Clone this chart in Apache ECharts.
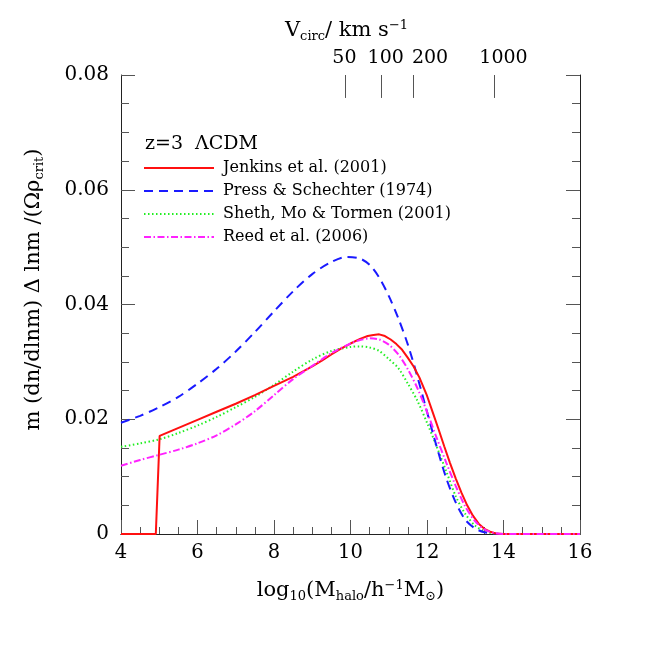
<!DOCTYPE html>
<html><head><meta charset="utf-8">
<script src="https://cdn.jsdelivr.net/npm/echarts@6/dist/echarts.min.js"></script>
<style>html,body{margin:0;padding:0;background:#fff}#c{width:654px;height:654px}</style>
</head><body><div id="c"></div>
<script>
// ---- data ----
const jenkinsX = [4, 4.91, 5.01, 6.0, 6.5, 7.0, 7.5, 8.0, 8.5, 9.0, 9.25, 9.5, 9.75, 10.0, 10.25, 10.45, 10.6, 10.75, 10.9, 11.05, 11.2, 11.35, 11.5, 11.65, 11.8, 12.0, 12.15, 12.3, 12.45, 12.6, 12.75, 12.9, 13.05, 13.2, 13.35, 13.5, 13.65, 13.8, 14.0, 16.0];
const jenkinsY = [0, 0, 0.0171, 0.0199, 0.0213, 0.0227, 0.0242, 0.0258, 0.0274, 0.0292, 0.0302, 0.0313, 0.0323, 0.0332, 0.0340, 0.0345, 0.0347, 0.0348, 0.0345, 0.0339, 0.0331, 0.0321, 0.0307, 0.0292, 0.0273, 0.0241, 0.0212, 0.0183, 0.0153, 0.0124, 0.0097, 0.0072, 0.0050, 0.0032, 0.0018, 0.0009, 0.0004, 0.0001, 0, 0];

const psX = [4.0, 4.5, 5.0, 5.5, 6.0, 6.5, 7.0, 7.5, 8.0, 8.5, 9.0, 9.5, 9.9, 10.25, 10.5, 10.75, 11.0, 11.25, 11.5, 11.75, 12.0, 12.25, 12.5, 12.75, 13.0, 13.25, 13.5, 13.75, 14.0, 16.0];
const psY = [0.0194, 0.0206, 0.0221, 0.0239, 0.0262, 0.0288, 0.0318, 0.0352, 0.0388, 0.0423, 0.0453, 0.0474, 0.0483, 0.0480, 0.0469, 0.0447, 0.0415, 0.0376, 0.0330, 0.0274, 0.0213, 0.0153, 0.0098, 0.0055, 0.0025, 0.0010, 0.0003, 0.0001, 0, 0];

const smtX = [4.0, 4.5, 5.0, 5.5, 6.0, 6.5, 7.0, 7.5, 8.0, 8.5, 9.0, 9.5, 10.0, 10.25, 10.5, 10.75, 11.0, 11.25, 11.5, 11.75, 12.0, 12.25, 12.5, 12.75, 13.0, 13.25, 13.5, 13.75, 14.0, 16.0];
const smtY = [0.0152, 0.0158, 0.0165, 0.0176, 0.0189, 0.0204, 0.0221, 0.0239, 0.0260, 0.0283, 0.0304, 0.0319, 0.0326, 0.0327, 0.0325, 0.0319, 0.0305, 0.0289, 0.0262, 0.0232, 0.0194, 0.0153, 0.0110, 0.0066, 0.0035, 0.0015, 0.0005, 0.0001, 0, 0];

const reedX = [4.0, 4.5, 5.0, 5.5, 6.0, 6.5, 7.0, 7.5, 8.0, 8.5, 9.0, 9.5, 10.0, 10.25, 10.5, 10.75, 11.0, 11.25, 11.5, 11.75, 12.0, 12.25, 12.5, 12.75, 13.0, 13.25, 13.5, 13.75, 14.0, 16.0];
const reedY = [0.0119, 0.0129, 0.0138, 0.0147, 0.0158, 0.0172, 0.0191, 0.0214, 0.0242, 0.0270, 0.0293, 0.0315, 0.0332, 0.0338, 0.0341, 0.0339, 0.0330, 0.0313, 0.0287, 0.0254, 0.0213, 0.0168, 0.0125, 0.0084, 0.0048, 0.0023, 0.0008, 0.0002, 0, 0];

const seriesNames = ['Jenkins et al. (2001)', 'Press & Schechter (1974)', 'Sheth, Mo & Tormen (2001)', 'Reed et al. (2006)'];
const vcircTickPos = [9.86, 10.81, 11.63, 13.75];
const vcircLabelPos = [9.84, 10.92, 12.08, 14.0];
const vcircTickLabels = ['50', '100', '200', '1000'];
const cosmologyLabel = 'z=3  \u039BCDM';

// ---- chart ----
const F = 'DejaVu Serif';
const zip = (xs, ys) => xs.map((x, i) => [x, ys[i]]);
const AX = '#222', TK = '#555';
const Y_MAX = 0.08;
const TOP_TICK = 0.004; // tick length in data units (style)
const richBase = {
  n: { fontFamily: F, fontSize: 21, color: '#000', lineHeight: 24 },
  s: { fontFamily: F, fontSize: 13, color: '#000', lineHeight: 13, padding: [11, 0, 0, 0], verticalAlign: 'bottom' },
  p: { fontFamily: F, fontSize: 13, color: '#000', lineHeight: 13, padding: [0, 0, 11, 0], verticalAlign: 'top' }
};

const chart = echarts.init(document.getElementById('c'), null, { renderer: 'canvas' });
chart.setOption({
  animation: false,
  backgroundColor: '#fff',
  grid: { left: 121, right: 74, top: 75, bottom: 120 },
  xAxis: [{
    type: 'value', min: 4, max: 16, interval: 2, position: 'bottom',
    axisLine: { lineStyle: { color: AX, width: 1 } },
    axisTick: { inside: true, length: 14, lineStyle: { color: TK } },
    minorTick: { show: true, splitNumber: 4, length: 7, lineStyle: { color: TK } },
    splitLine: { show: false },
    axisLabel: { color: '#000', fontFamily: F, fontSize: 19.5, margin: 9 },
    name: '{n|log}{s|10}{n|(M}{s|halo}{n|/h}{p|\u22121}{n|M}{s|\u2299}{n|)}',
    nameLocation: 'middle', nameGap: 45,
    nameTextStyle: { rich: richBase }
  }, {
    type: 'value', min: 4, max: 16, position: 'top',
    axisLine: { lineStyle: { color: AX, width: 1 } },
    axisTick: { show: false },
    splitLine: { show: false },
    axisLabel: {
      customValues: vcircLabelPos, color: '#000', fontFamily: F, fontSize: 19, margin: 7,
      formatter: v => {
        let best = 0;
        vcircLabelPos.forEach((p, i) => { if (Math.abs(p - v) < Math.abs(vcircLabelPos[best] - v)) best = i; });
        return vcircTickLabels[best];
      }
    },
    name: '{n|V}{s|circ}{n|/ km s}{p|\u22121}',
    nameLocation: 'middle', nameGap: 32,
    nameTextStyle: { rich: richBase, padding: [0, 8, 0, 0] }
  }],
  yAxis: [{
    type: 'value', min: 0, max: Y_MAX, interval: 0.02, position: 'left',
    axisLine: { show: true, lineStyle: { color: AX, width: 1 } },
    axisTick: { show: true, inside: true, length: 14, lineStyle: { color: TK } },
    minorTick: { show: true, splitNumber: 4, length: 8, lineStyle: { color: TK } },
    splitLine: { show: false },
    axisLabel: { color: '#000', fontFamily: F, fontSize: 20, margin: 12 },
    name: '{n|m (dn/dlnm) \u0394 lnm /(\u03A9\u03C1}{s|crit}{n|)}',
    nameLocation: 'middle', nameGap: 75,
    nameTextStyle: { rich: richBase, padding: [0, 0, 0, 30] }
  }, {
    type: 'value', min: 0, max: Y_MAX, interval: 0.02, position: 'right',
    axisLine: { show: true, lineStyle: { color: AX, width: 1 } },
    axisTick: { show: true, inside: true, length: 14, lineStyle: { color: TK } },
    minorTick: { show: true, splitNumber: 4, length: 8, lineStyle: { color: TK } },
    splitLine: { show: false },
    axisLabel: { show: false }
  }],
  legend: {
    orient: 'vertical', left: 138, top: 155, itemWidth: 70, itemHeight: 14, itemGap: 7,
    itemStyle: { opacity: 0 },
    textStyle: { fontFamily: F, fontSize: 16, color: '#000', lineHeight: 16, padding: [0, 0, 0, 4] },
    data: seriesNames
  },
  graphic: [{
    type: 'text', x: 145, y: 144,
    style: { text: cosmologyLabel, font: '19px "DejaVu Serif"', fill: '#000', verticalAlign: 'middle', align: 'left' }
  }],
  series: [
    { name: seriesNames[0], type: 'line', data: zip(jenkinsX, jenkinsY), symbol: 'none', smooth: false, z: 5,
      lineStyle: { color: '#ff1010', width: 2, type: 'solid' }, itemStyle: { color: '#ff1010' } },
    { name: seriesNames[1], type: 'line', data: zip(psX, psY), symbol: 'none', smooth: 0.3, z: 4,
      lineStyle: { color: '#1a1aff', width: 2, type: [9, 6] }, itemStyle: { color: '#1a1aff' } },
    { name: seriesNames[2], type: 'line', data: zip(smtX, smtY), symbol: 'none', smooth: 0.3, z: 3,
      lineStyle: { color: '#22ee22', width: 2, type: [1.5, 2.5] }, itemStyle: { color: '#22ee22' } },
    { name: seriesNames[3], type: 'line', data: zip(reedX, reedY), symbol: 'none', smooth: 0.3, z: 6,
      lineStyle: { color: '#ff22ff', width: 2, type: [7, 2.5, 1.5, 2.5] }, itemStyle: { color: '#ff22ff' } },
    { name: 'vcirc-ticks', type: 'line', data: [], xAxisIndex: 0, yAxisIndex: 0, silent: true,
      markLine: {
        silent: true, symbol: 'none', animation: false,
        label: { show: false },
        lineStyle: { color: TK, width: 1, type: 'solid' },
        data: vcircTickPos.map(v => [{ coord: [v, Y_MAX] }, { coord: [v, Y_MAX - TOP_TICK] }])
      } }
  ]
});
</script></body></html>
